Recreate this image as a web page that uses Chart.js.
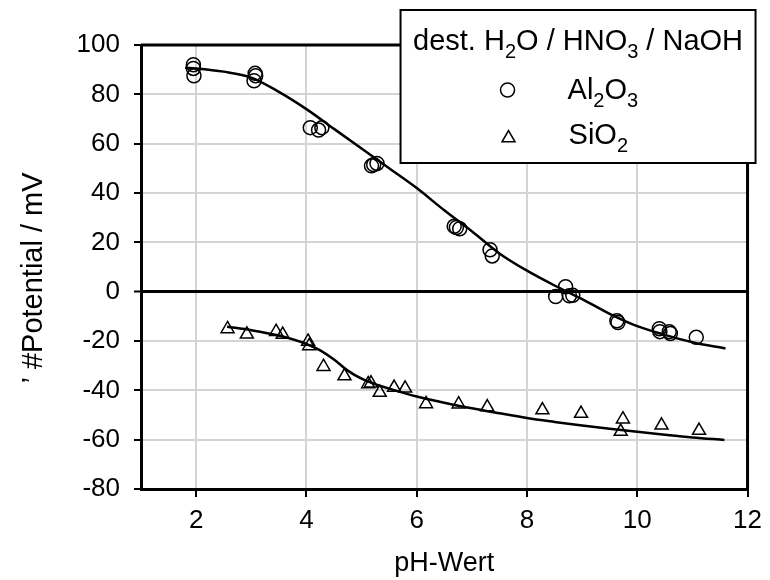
<!DOCTYPE html>
<html>
<head>
<meta charset="utf-8">
<script src="https://cdn.jsdelivr.net/npm/chart.js@4.4.1/dist/chart.umd.min.js"></script>
<style>
  html, body { margin: 0; padding: 0; background: #fff; }
</style>
</head>
<body>
<canvas id="chart" width="770" height="580"></canvas>
<script>
// measured points, Al2O3 (circles)
const al2o3X = [1.95, 1.95, 1.96, 3.07, 3.08, 3.05, 4.07, 4.22, 4.28, 5.18, 5.22, 5.28,
                6.68, 6.72, 6.78, 7.33, 7.37, 8.52, 8.70, 8.77, 8.83, 9.63, 9.65,
                10.40, 10.41, 10.58, 10.60, 11.07];
const al2o3Y = [92, 90.5, 87.5, 88.5, 87.5, 85.5, 66.5, 65.5, 66.5, 51, 51.5, 52,
                26.5, 26, 25.5, 17, 14.5, -2, 2, -1.7, -1.5, -11.8, -12.5,
                -15, -16.2, -16.2, -17, -18.5];

// measured points, SiO2 (triangles)
const sio2X = [2.57, 2.92, 3.45, 3.57, 4.03, 4.05, 4.31, 4.69, 5.12, 5.17, 5.33, 5.59,
               5.79, 6.17, 6.76, 7.28, 8.28, 8.98, 9.74, 9.70, 10.44, 11.12];
const sio2Y = [-15.1, -17.3, -16.2, -17.4, -20.2, -22, -30.4, -34.2, -37.4, -37.1, -40.9, -38.9,
               -39.2, -45.5, -45.6, -46.8, -48, -49.4, -51.7, -56.7, -54.2, -56.3];

// fitted curves
const al2o3FitX = [1.8, 2.0, 2.5, 3.0, 3.5, 4.0, 4.5, 5.0, 5.5, 6.0, 6.5, 7.0, 7.5, 8.0, 8.5, 9.0, 9.5, 10.0, 10.5, 11.0, 11.6];
const al2o3FitY = [90.8, 90.5, 89.2, 86.8, 81, 74, 66, 58, 50, 42, 33, 24.5, 15.5, 8.5, 2.5, -3, -9, -14, -17.5, -20.5, -23];
const sio2FitX = [2.56, 3.0, 3.5, 4.0, 4.25, 4.5, 4.75, 5.0, 5.25, 5.5, 6.0, 6.5, 7.0, 7.5, 8.0, 8.5, 9.0, 9.5, 10.0, 10.5, 11.0, 11.58];
const sio2FitY = [-14.2, -15.6, -17.8, -21.2, -23.8, -27.5, -32, -35.3, -37.5, -39.3, -42.5, -45, -47.3, -49.3, -51.2, -52.8, -54.3, -55.6, -56.8, -58, -59.1, -60.1];

const xTitle = 'pH-Wert';
const yTitle = '\u2019 #Potential / mV';

const FONT = "'Liberation Sans', Arial, sans-serif";
Chart.defaults.font.family = FONT;
Chart.defaults.color = '#000';

const pts = (xs, ys) => xs.map((x, i) => ({ x: x, y: ys[i] }));

// text with subscripts: parts = [[text, isSub], ...]
function richWidth(ctx, parts, size) {
    let w = 0;
    parts.forEach(p => {
        ctx.font = (p[1] ? Math.round(size * 0.7) : size) + 'px ' + FONT;
        w += ctx.measureText(p[0]).width;
    });
    return w;
}
function drawRich(ctx, parts, x, y, size) {
    parts.forEach(p => {
        ctx.font = (p[1] ? Math.round(size * 0.7) : size) + 'px ' + FONT;
        ctx.fillText(p[0], x, p[1] ? y + size * 0.28 : y);
        x += ctx.measureText(p[0]).width;
    });
}

const frameAndLegend = {
    id: 'frameAndLegend',
    afterDraw(chart) {
        const ctx = chart.ctx;
        const a = chart.chartArea;
        ctx.save();
        ctx.strokeStyle = '#000';
        ctx.lineWidth = 3;
        ctx.beginPath();
        ctx.moveTo(a.left, a.top);
        ctx.lineTo(a.right, a.top);
        ctx.lineTo(a.right, a.bottom);
        ctx.stroke();

        // y title, drawn by hand so it sits where the original does
        ctx.save();
        ctx.translate(42, 278);
        ctx.rotate(-Math.PI / 2);
        ctx.fillStyle = '#000';
        ctx.font = '29px ' + FONT;
        ctx.textAlign = 'center';
        ctx.textBaseline = 'alphabetic';
        ctx.fillText(yTitle, 0, 0);
        ctx.restore();

        // legend box, overlapping the top right corner
        const lx = a.right - 347, ly = a.top - 35, lw = 355, lh = 153;
        ctx.fillStyle = '#fff';
        ctx.fillRect(lx, ly, lw, lh);
        ctx.lineWidth = 2;
        ctx.strokeRect(lx, ly, lw, lh);

        const size = 29;
        ctx.fillStyle = '#000';
        ctx.textAlign = 'left';
        ctx.textBaseline = 'alphabetic';
        const head = [['dest. H', 0], ['2', 1], ['O / HNO', 0], ['3', 1], [' / NaOH', 0]];
        const hw = richWidth(ctx, head, size);
        drawRich(ctx, head, lx + (lw - hw) / 2, ly + 40, size);
        drawRich(ctx, [['Al', 0], ['2', 1], ['O', 0], ['3', 1]], lx + 167, ly + 89, size);
        drawRich(ctx, [['SiO', 0], ['2', 1]], lx + 168, ly + 134, size);

        ctx.fillStyle = 'rgba(0,0,0,0)';
        ctx.strokeStyle = '#000';
        ctx.lineWidth = 1.5;
        Chart.helpers.drawPoint(ctx, { pointStyle: 'circle', radius: 7, borderWidth: 1.5 }, lx + 107, ly + 80);
        Chart.helpers.drawPoint(ctx, { pointStyle: 'triangle', radius: 7.5, borderWidth: 1.5 }, lx + 108, ly + 128);
        ctx.restore();
    }
};

const markerStyle = {
    showLine: false,
    borderColor: '#000',
    backgroundColor: 'rgba(0,0,0,0)',
    borderWidth: 1.5
};
const fitStyle = {
    showLine: true,
    borderColor: '#000',
    borderWidth: 2.5,
    pointRadius: 0,
    cubicInterpolationMode: 'monotone',
    fill: false
};

new Chart(document.getElementById('chart').getContext('2d'), {
    type: 'scatter',
    data: {
        datasets: [
            Object.assign({ label: 'Al2O3 fit', data: pts(al2o3FitX, al2o3FitY) }, fitStyle),
            Object.assign({ label: 'SiO2 fit', data: pts(sio2FitX, sio2FitY) }, fitStyle),
            Object.assign({ label: 'Al2O3', data: pts(al2o3X, al2o3Y), pointStyle: 'circle',
                            pointRadius: 7, pointHoverRadius: 7 }, markerStyle),
            Object.assign({ label: 'SiO2', data: pts(sio2X, sio2Y), pointStyle: 'triangle',
                            pointRadius: 7.5, pointHoverRadius: 7.5 }, markerStyle)
        ]
    },
    options: {
        responsive: false,
        animation: false,
        layout: { padding: { left: 0, top: 45, right: 18, bottom: 0 } },
        plugins: {
            legend: { display: false },
            tooltip: { enabled: false }
        },
        scales: {
            x: {
                type: 'linear',
                min: 1,
                max: 12,
                afterFit: function (axis) { axis.height = 91; },
                ticks: {
                    stepSize: 2,
                    includeBounds: false,
                    padding: 8,
                    font: { size: 26 },
                    color: '#000'
                },
                grid: {
                    color: '#d4d4d4',
                    lineWidth: 2,
                    tickLength: 8,
                    tickColor: '#000',
                    tickWidth: 2
                },
                border: { color: '#000', width: 3 },
                title: {
                    display: true,
                    text: xTitle,
                    font: { size: 27 },
                    color: '#000',
                    padding: { top: 6, bottom: 0 }
                }
            },
            y: {
                min: -80,
                max: 100,
                afterFit: function (axis) { axis.width = 141; },
                ticks: {
                    stepSize: 20,
                    padding: 14,
                    font: { size: 26 },
                    color: '#000'
                },
                grid: {
                    color: ctx => ctx.tick && ctx.tick.value === 0 ? '#000' : '#d4d4d4',
                    lineWidth: ctx => ctx.tick && ctx.tick.value === 0 ? 3 : 2,
                    tickLength: 7,
                    tickColor: '#000',
                    tickWidth: 2
                },
                border: { color: '#000', width: 3 },
                title: { display: false }
            }
        }
    },
    plugins: [frameAndLegend]
});
</script>
</body>
</html>
